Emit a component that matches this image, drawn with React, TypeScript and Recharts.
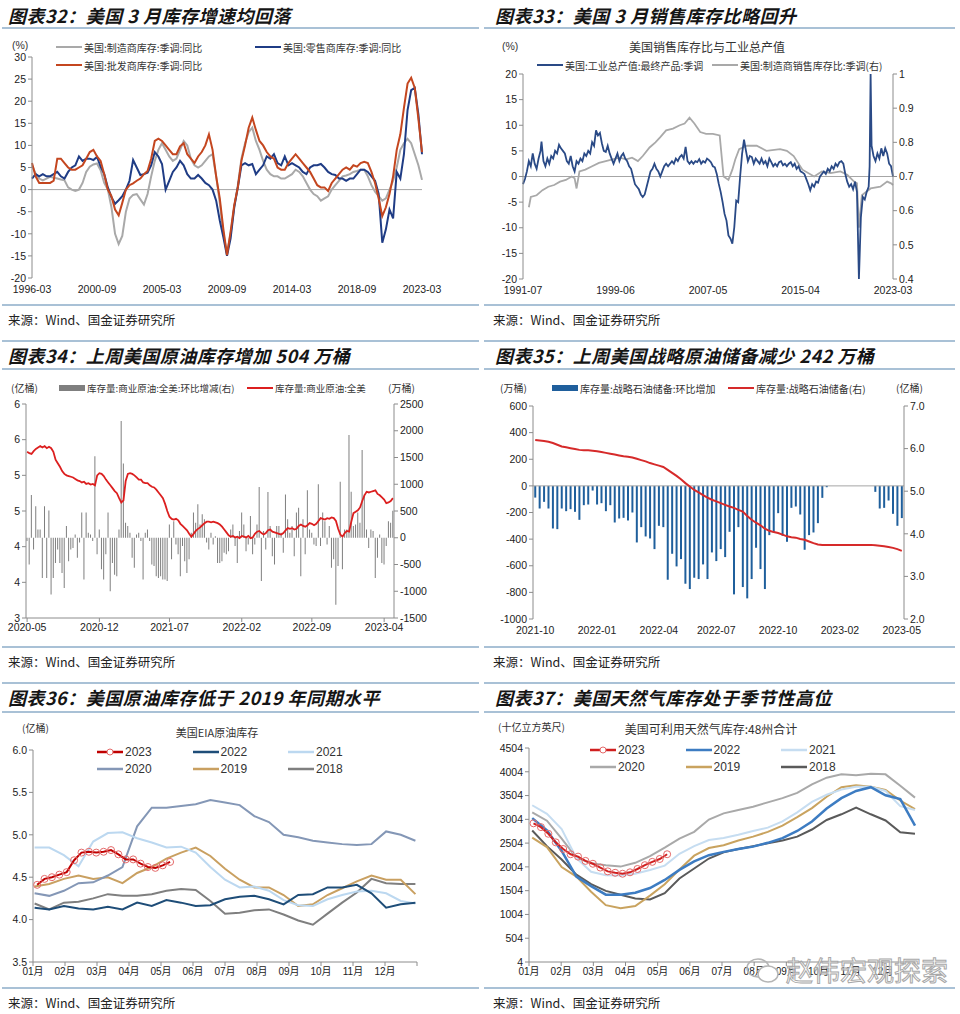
import React from "react";
import { LineChart, Line, XAxis, YAxis, ReferenceLine, ComposedChart, Bar } from "recharts";

const NUM_FONT = "'Liberation Sans', Arial, 'Noto Sans CJK SC', sans-serif";
const CJK_FONT = "'Noto Sans CJK SC', 'Liberation Sans', sans-serif";
const AXIS = "#8c8c8c";
const RULE = "#a9c1d6";
const tick = { fontSize: 10.5, fill: "#222", fontFamily: NUM_FONT };

// ---------- 图表32：美国库存同比（季度取样，1996-03 起） ----------
const P1_START = "1996-03";
const P1_TICKS = ["1996-03", "2000-09", "2005-03", "2009-09", "2014-03", "2018-09", "2023-03"];
const P1_MFG = [
  5.5, 3.6, 2.5, 2.1, 2.5, 2.9, 2.7, 2.5, 2.3, 2.1, 0.5, 0, -0.3, 0, 1.5, 4,
  5.2, 5.7, 5.9, 4.4, 1.5, 0, -4, -10, -12.3, -10.5, -5, -2, -1.2, -1, -2.2, -3.4,
  -1, 3, 6.5, 9, 10.5, 9, 7.5, 6.5, 7, 9, 11, 10, 7, 5.5, 5, 5.5,
  6.5, 7.5, 8, 3, -3, -10, -14.5, -10, -4, 1, 7, 10.5, 13, 14, 11, 9,
  6.5, 4.5, 3.5, 3, 3, 2.5, 2.5, 3, 3.5, 4.5, 4, 3, 1.5, 0, -1, -1.5,
  -2.5, -2, -1.5, 0, 1, 2, 3, 3.2, 3.5, 4, 4.2, 4.5, 4.5, 3, 1, -0.5,
  -1.5, -2.5, -2, 0, 2, 5, 9, 10.5, 11.5, 10.5, 8, 5.5, 2.2,
];
const P1_RETAIL = [
  2.5, 3.5, 3, 3.5, 3, 3, 3.5, 4, 3, 2.5, 4, 5, 5.5, 7.5, 6.5, 7,
  7, 6.7, 7.4, 5.2, 3.5, 0.5, -1.7, -3.2, -2.4, -1.5, 0, 2, 6.7, 5, 3.3, 3.5,
  3.8, 5.5, 8.5, 7.5, 5.8, 0, 2, 4, 5, 6.5, 5.5, 3.5, 2.5, 2.5, 3.3, 2.5,
  1.5, 1, 0, -2.5, -7, -10.8, -15, -11, -4, 0.5, 5.5, 6, 5.5, 5.8, 3.5, 4.5,
  5.5, 7.5, 7, 8, 6, 5.5, 7.5, 5.5, 6, 5.5, 5, 4, 3.5, 5, 5.5, 5.5,
  5.8, 5, 4, 3.5, 3.3, 2.5, 2.5, 2, 2.5, 2.5, 3.5, 4.5, 4.5, 4, 3, 2,
  -1, -12, -9, -4.5, -6.5, 4, 2.5, 8, 18, 22.5, 23, 17, 8,
];
const P1_WHOLE = [
  6, 3, 1.5, 1.5, 1.5, 1.5, 2, 7, 7, 6, 5, 4.5, 4.5, 5, 5.5, 7,
  8.5, 9, 7.5, 6.5, 3.5, 0, -1.5, -4.5, -5.8, -3, 0, 1, 1.4, 2, 2.5, 3.5,
  4.2, 7, 11, 11.5, 11, 10, 9, 8, 8, 9.8, 10.5, 8, 7, 6, 7.5, 8.5,
  10, 12.5, 9, 3, -2, -9, -14.8, -9.5, -3.5, 0.5, 6.5, 10, 14, 16.3, 13.5, 11,
  10, 8.5, 7.5, 7, 5, 4.5, 4.5, 6, 7, 8, 7, 6, 5, 4, 2.5, 1,
  0.5, 0.5, -0.3, 1.5, 2.5, 3.5, 4.5, 5, 4.5, 5.5, 5.2, 6, 6.3, 6, 4, 1.5,
  -2, -6, -4, -1, 3, 9, 12.5, 18.5, 24, 25.3, 23, 16, 8.5,
];

// ---------- 图表33：工业总产值与销售库存比 ----------
const P2_START = "1991-07";
const P2_TICKS = ["1991-07", "1999-06", "2007-05", "2015-04", "2023-03"];
const P2_IP: [string, number][] = [
  ["1991-07", -1.5], ["1991-09", -0.5], ["1991-11", 1], ["1992-01", 3], ["1992-03", 2], ["1992-05", 4.5],
  ["1992-07", 2.5], ["1992-09", 1.5], ["1992-11", 3.5], ["1993-01", 5], ["1993-02", 6.8], ["1993-04", 3],
  ["1993-06", 2], ["1993-08", 3.5], ["1993-10", 2.5], ["1993-12", 4], ["1994-02", 3.5], ["1994-04", 5],
  ["1994-06", 4.5], ["1994-08", 6.2], ["1994-10", 5.5], ["1994-12", 5], ["1995-02", 4.5], ["1995-04", 3],
  ["1995-06", 2.5], ["1995-08", 4], ["1995-10", 2], ["1995-12", 1], ["1996-02", 3], ["1996-04", 2.5],
  ["1996-06", 3.5], ["1996-08", 3], ["1996-10", 4.5], ["1996-12", 4], ["1997-02", 5], ["1997-04", 4.5],
  ["1997-06", 6.7], ["1997-08", 6], ["1997-10", 9], ["1997-12", 8], ["1998-02", 8.5], ["1998-04", 6.5],
  ["1998-06", 5], ["1998-08", 4.8], ["1998-10", 6], ["1998-12", 4.5], ["1999-02", 3.5], ["1999-04", 2.5],
  ["1999-06", 3.5], ["1999-08", 4.5], ["1999-10", 3], ["1999-12", 4], ["2000-02", 4.5], ["2000-04", 3.5],
  ["2000-06", 3], ["2000-08", 2], ["2000-10", 1.5], ["2000-12", 0], ["2001-02", -1.5], ["2001-04", -2],
  ["2001-06", -2.5], ["2001-08", -3.5], ["2001-10", -4], ["2001-12", -3.5], ["2002-02", -2], ["2002-04", -0.5],
  ["2002-06", 1], ["2002-08", 1.5], ["2002-10", 2.5], ["2002-12", 1.5], ["2003-02", 1], ["2003-04", 0],
  ["2003-06", 1], ["2003-08", 2], ["2003-10", 2.5], ["2003-12", 2], ["2004-02", 2.5], ["2004-04", 3],
  ["2004-06", 2.5], ["2004-08", 3.5], ["2004-10", 3], ["2004-12", 3.8], ["2005-02", 4.2], ["2005-04", 3.5],
  ["2005-06", 5.8], ["2005-08", 3], ["2005-10", 2.5], ["2005-12", 3], ["2006-02", 2.5], ["2006-04", 3],
  ["2006-06", 2.8], ["2006-08", 3.4], ["2006-10", 2.5], ["2006-12", 3], ["2007-02", 2.7], ["2007-04", 3.5],
  ["2007-06", 3.2], ["2007-08", 2.8], ["2007-10", 2], ["2007-12", 1.8], ["2008-02", 0.5], ["2008-04", -1.4],
  ["2008-06", -3], ["2008-08", -5], ["2008-10", -7.3], ["2008-12", -8.6], ["2009-02", -11.5], ["2009-04", -12.1],
  ["2009-06", -13.1], ["2009-08", -9.9], ["2009-10", -4.7], ["2009-12", -5], ["2010-02", 0], ["2010-04", 4.4],
  ["2010-06", 7.2], ["2010-08", 5], ["2010-10", 3], ["2010-12", 4], ["2011-02", 3.8], ["2011-04", 2.5],
  ["2011-06", 3.5], ["2011-08", 3], ["2011-10", 2.5], ["2011-12", 3.5], ["2012-02", 2.5], ["2012-04", 3],
  ["2012-06", 2], ["2012-08", 3.5], ["2012-10", 2.8], ["2012-12", 2], ["2013-02", 2.5], ["2013-04", 2],
  ["2013-06", 2.8], ["2013-08", 3], ["2013-10", 2.2], ["2013-12", 2.5], ["2014-02", 2], ["2014-04", 2.5],
  ["2014-06", 2.8], ["2014-08", 2], ["2014-10", 2.5], ["2014-12", 1.5], ["2015-02", 2], ["2015-04", 1],
  ["2015-06", 0.8], ["2015-08", 0.5], ["2015-10", -0.5], ["2015-12", -1.5], ["2016-02", -2.7], ["2016-04", -1.5],
  ["2016-06", -2], ["2016-08", -1], ["2016-10", -1.2], ["2016-12", 0], ["2017-02", 0.5], ["2017-04", 1],
  ["2017-06", 0.5], ["2017-08", 1.5], ["2017-10", 1], ["2017-12", 2], ["2018-02", 1.5], ["2018-04", 2.5],
  ["2018-06", 2], ["2018-08", 2.8], ["2018-10", 3], ["2018-12", 2.5], ["2019-02", 0.5], ["2019-04", -1],
  ["2019-06", -2], ["2019-08", -1.5], ["2019-10", -2.5], ["2019-12", -1], ["2020-02", -3], ["2020-04", -20],
  ["2020-05", -14], ["2020-06", -8], ["2020-08", -4], ["2020-10", -4.5], ["2020-12", -3], ["2021-02", -2],
  ["2021-03", 2], ["2021-04", 20], ["2021-05", 6], ["2021-07", 4], ["2021-09", 3], ["2021-11", 4.5],
  ["2022-01", 3.5], ["2022-03", 5.5], ["2022-05", 4], ["2022-07", 5.5], ["2022-09", 4.5], ["2022-11", 2.5],
  ["2023-01", 2], ["2023-03", 0],
];
const P2_ISR: [string, number][] = [
  ["1992-01", 0.61], ["1992-03", 0.64], ["1992-09", 0.645], ["1993-03", 0.66], ["1993-09", 0.67], ["1994-03", 0.675],
  ["1994-09", 0.685], ["1995-03", 0.69], ["1995-09", 0.7], ["1995-12", 0.695], ["1996-02", 0.665], ["1996-05", 0.715],
  ["1996-11", 0.72], ["1997-06", 0.73], ["1998-01", 0.74], ["1998-08", 0.745], ["1999-03", 0.75], ["1999-10", 0.755],
  ["2000-05", 0.75], ["2000-11", 0.755], ["2001-05", 0.745], ["2001-10", 0.76], ["2002-05", 0.785], ["2002-11", 0.8],
  ["2003-04", 0.815], ["2003-10", 0.835], ["2004-05", 0.84], ["2004-12", 0.85], ["2005-05", 0.855], ["2005-10", 0.872],
  ["2006-03", 0.855], ["2006-09", 0.83], ["2007-03", 0.825], ["2007-10", 0.825], ["2008-05", 0.82], ["2008-09", 0.7],
  ["2009-02", 0.69], ["2009-06", 0.72], ["2009-09", 0.75], ["2010-01", 0.78], ["2010-09", 0.79], ["2011-07", 0.79],
  ["2012-05", 0.775], ["2013-07", 0.78], ["2014-02", 0.775], ["2014-09", 0.76], ["2015-06", 0.72], ["2016-06", 0.7],
  ["2017-02", 0.715], ["2017-11", 0.71], ["2018-09", 0.715], ["2019-04", 0.705], ["2019-11", 0.685], ["2020-02", 0.68],
  ["2020-04", 0.55], ["2020-07", 0.645], ["2021-04", 0.665], ["2022-02", 0.67], ["2022-09", 0.685], ["2023-01", 0.68],
  ["2023-03", 0.675],
];

// ---------- 图表34：商业原油库存（周） ----------
const P3_TICK_IDX = [0, 33, 65, 98, 130, 163];
const P3_TICK_LABELS = ["2020-05", "2020-12", "2021-07", "2022-02", "2022-09", "2023-04"];
const P3_CHANGE = [
  -60, -500, 800, -220, 590, 155, 155, -750, 590, -750,
  510, -1060, -750, -470, -220, -470, -660, -940, 220, -440,
  -220, -190, 60, -375, -90, 470, -780, 470, 95, 60,
  -60, 1525, -310, 155, -590, -780, -310, 470, -1000, -470,
  -690, -720, 155, 2180, 1390, 280, 220, 95, -375, -560,
  60, 95, -60, -780, 95, 155, -60, -500, -530, -720,
  -750, -720, -780, -780, -810, 250, -400, 310, -125, -310,
  -720, -155, -440, -660, -400, 95, 470, 280, 625, 250,
  440, 345, -90, -220, 95, -125, 30, -470, -470, -440,
  -280, -310, -250, 155, 250, -155, -470, 125, 470, 250,
  -250, -125, 405, -310, -125, 250, 950, -810, 125, -220,
  855, 220, -345, -500, 220, 220, 95, -280, 810, 345,
  95, 220, -345, 470, 560, -720, 345, -310, 890, 155,
  95, -125, -155, 1000, -155, 470, 310, -125, 220, -560,
  -400, -1250, -530, 1045, -590, 155, 155, 1920, 860, 220,
  250, 470, 280, 1640, 810, 155, -190, 155, 125, -750,
  -375, 60, -470, -500, -155, 310, 280, 504,
];
const P3_STOCK = [
  5.33, 5.31, 5.3, 5.34, 5.37, 5.39, 5.41, 5.39, 5.41, 5.38,
  5.4, 5.38, 5.33, 5.22, 5.17, 5.12, 5.06, 5.02, 5.0, 4.99,
  4.98, 4.97, 4.95, 4.93, 4.92, 4.9, 4.91, 4.88, 4.89, 4.87,
  4.88, 4.86, 5.0, 5.03, 5.02, 4.99, 4.94, 4.9, 4.86, 4.82,
  4.78, 4.75, 4.68, 4.62, 4.65, 4.92, 5.02, 5.03, 5.02, 5.0,
  4.97, 4.94, 4.94, 4.9, 4.89, 4.89, 4.86, 4.84, 4.83, 4.8,
  4.76, 4.72, 4.68, 4.6, 4.5, 4.42, 4.39, 4.38, 4.39, 4.37,
  4.32, 4.29, 4.26, 4.23, 4.18, 4.14, 4.18, 4.22, 4.25, 4.27,
  4.3, 4.33, 4.35, 4.35, 4.34, 4.35, 4.34, 4.33, 4.31, 4.28,
  4.24, 4.2, 4.16, 4.14, 4.15, 4.13, 4.14, 4.12, 4.15, 4.14,
  4.13, 4.15, 4.12, 4.13, 4.18, 4.21, 4.22, 4.19, 4.17, 4.19,
  4.23, 4.24, 4.21, 4.2, 4.19, 4.18, 4.17, 4.19, 4.23, 4.26,
  4.25, 4.26, 4.24, 4.25, 4.29, 4.31, 4.29, 4.28, 4.3, 4.33,
  4.32, 4.3, 4.32, 4.36, 4.4, 4.39, 4.38, 4.4, 4.39, 4.41,
  4.4, 4.36, 4.25, 4.17, 4.14, 4.19, 4.22, 4.21, 4.35, 4.47,
  4.49, 4.51, 4.55, 4.64, 4.72, 4.77, 4.76, 4.77, 4.78, 4.79,
  4.74, 4.72, 4.69, 4.66, 4.61, 4.62, 4.64, 4.68,
];

// ---------- 图表35：战略石油储备（周） ----------
const P4_TICK_IDX = [0, 14, 28, 41, 55, 69, 83];
const P4_TICK_LABELS = ["2021-10", "2022-01", "2022-04", "2022-07", "2022-10", "2023-02", "2023-05"];
const P4_CHANGE = [
  -88, -170, -120, -170, -320, -325, -170, -190, -175, -195,
  -255, -145, -140, -35, -140, -130, -190, -145, -275, -245,
  -240, -260, -200, -425, -310, -380, -395, -475, -300, -310,
  -705, -510, -605, -550, -735, -775, -690, -700, -590, -700,
  -500, -565, -475, -535, -345, -815, -310, -760, -845, -700,
  -465, -625, -775, -370, -350, -205, -375, -420, -165, -155,
  -215, -480, -370, -350, -280, -90, -10, 0, 0, 0,
  0, 0, 0, 0, 0, 0, 0, -45, -170, -165,
  -110, -210, -300, -242,
];
const P4_STOCK = [
  6.2, 6.19, 6.18, 6.16, 6.13, 6.09, 6.05, 6.03, 6.01, 5.99,
  5.97, 5.96, 5.96, 5.95, 5.94, 5.92, 5.9, 5.88, 5.86, 5.84,
  5.82, 5.81, 5.79, 5.76, 5.73, 5.7, 5.66, 5.63, 5.6, 5.57,
  5.5, 5.43, 5.36, 5.28, 5.19, 5.11, 5.03, 4.97, 4.91, 4.85,
  4.8, 4.76, 4.72, 4.68, 4.64, 4.61, 4.56, 4.52, 4.42, 4.33,
  4.26, 4.2, 4.12, 4.07, 4.04, 4.02, 3.98, 3.94, 3.92, 3.91,
  3.88, 3.86, 3.82, 3.78, 3.75, 3.74, 3.74, 3.74, 3.74, 3.74,
  3.74, 3.74, 3.74, 3.74, 3.74, 3.74, 3.74, 3.73, 3.72, 3.71,
  3.69, 3.67, 3.64, 3.6,
];

// ---------- 图表36：EIA原油库存（双周取样，2023为周） ----------
const CRUDE_2023 = [4.41, 4.48, 4.5, 4.53, 4.56, 4.7, 4.79, 4.8, 4.79, 4.8, 4.82, 4.77, 4.71, 4.71, 4.66, 4.62, 4.61, 4.64, 4.68];
const CRUDE_2022 = [4.14, 4.12, 4.16, 4.13, 4.12, 4.15, 4.12, 4.2, 4.16, 4.23, 4.2, 4.16, 4.17, 4.24, 4.27, 4.28, 4.24, 4.18, 4.29, 4.3, 4.38, 4.38, 4.41, 4.31, 4.14, 4.18, 4.2];
const CRUDE_2021 = [4.85, 4.85, 4.76, 4.63, 4.92, 5.02, 5.03, 4.96, 4.91, 4.85, 4.86, 4.79, 4.62, 4.47, 4.38, 4.39, 4.34, 4.23, 4.17, 4.16, 4.24, 4.29, 4.33, 4.34, 4.31, 4.22, 4.19];
const CRUDE_2020 = [4.31, 4.28, 4.34, 4.43, 4.44, 4.52, 4.62, 5.1, 5.32, 5.32, 5.34, 5.36, 5.41, 5.38, 5.35, 5.22, 5.15, 5.0, 4.97, 4.93, 4.91, 4.89, 4.88, 4.89, 5.04, 5.0, 4.93];
const CRUDE_2019 = [4.39, 4.42, 4.48, 4.52, 4.48, 4.5, 4.43, 4.55, 4.62, 4.72, 4.79, 4.85, 4.75, 4.6, 4.47, 4.38, 4.38, 4.29, 4.16, 4.18, 4.29, 4.37, 4.45, 4.52, 4.47, 4.47, 4.3];
const CRUDE_2018 = [4.19, 4.12, 4.2, 4.21, 4.25, 4.3, 4.28, 4.28, 4.3, 4.34, 4.36, 4.35, 4.22, 4.07, 4.08, 4.11, 4.12, 4.06, 3.99, 3.94, 4.07, 4.2, 4.32, 4.48, 4.43, 4.42, 4.42];

// ---------- 图表37：天然气库存 ----------
const GAS_2023 = [2920, 2840, 2700, 2520, 2380, 2270, 2220, 2130, 2070, 1990, 1910, 1880, 1860, 1890, 1960, 2040, 2110, 2170, 2270];
const GAS_2022 = [3030, 2770, 2340, 1800, 1600, 1420, 1420, 1460, 1560, 1730, 1940, 2120, 2250, 2320, 2380, 2430, 2510, 2610, 2760, 2960, 3230, 3450, 3600, 3680, 3510, 3430, 2870];
const GAS_2021 = [3300, 3120, 2800, 2190, 1900, 1830, 1825, 1860, 1940, 2030, 2280, 2440, 2570, 2610, 2680, 2760, 2830, 2960, 3150, 3370, 3520, 3630, 3690, 3690, 3600, 3280, 3200];
const GAS_2020 = [3150, 2975, 2600, 2200, 2080, 2040, 2010, 2090, 2230, 2410, 2600, 2740, 3000, 3130, 3200, 3270, 3360, 3450, 3560, 3740, 3880, 3950, 3930, 3965, 3950, 3710, 3460];
const GAS_2019 = [2620, 2420, 2000, 1800, 1480, 1200, 1135, 1180, 1400, 1640, 1950, 2240, 2400, 2460, 2560, 2640, 2740, 2870, 3050, 3240, 3480, 3680, 3720, 3690, 3620, 3400, 3220];
const GAS_2018 = [2770, 2440, 2160, 1840, 1640, 1500, 1420, 1340, 1320, 1450, 1760, 1970, 2180, 2310, 2380, 2440, 2500, 2560, 2640, 2790, 2990, 3110, 3250, 3110, 2980, 2730, 2700];

const MONTH_LABELS = ["01月", "02月", "03月", "04月", "05月", "06月", "07月", "08月", "09月", "10月", "11月", "12月", ""];

function monthsBetween(a: string, b: string) {
  const [ya, ma] = a.split("-").map(Number);
  const [yb, mb] = b.split("-").map(Number);
  return (yb - ya) * 12 + (mb - ma);
}
function addMonths(start: string, n: number) {
  const [y, m] = start.split("-").map(Number);
  const t = y * 12 + (m - 1) + Math.round(n);
  return `${Math.floor(t / 12)}-${String((t % 12) + 1).padStart(2, "0")}`;
}
// 周/双周序列在月份轴上的位置
const seasonal = (vals: number[], start: number, step: number) => vals.map((v, i) => ({ m: start + i * step, v }));

const p1Data = P1_MFG.map((v, i) => ({ m: i * 3, mfg: v, retail: P1_RETAIL[i], whole: P1_WHOLE[i] }));
const p2Ip = P2_IP.map(([d, v]) => ({ m: monthsBetween(P2_START, d), v }));
const p2Isr = P2_ISR.map(([d, v]) => ({ m: monthsBetween(P2_START, d), v }));
const p3Data = P3_CHANGE.map((c, i) => ({ i, c, s: P3_STOCK[i] }));
const p4Data = P4_CHANGE.map((c, i) => ({ i, c, s: P4_STOCK[i] }));

function Box({ x, y, w, h, children }: any) {
  return <div style={{ position: "absolute", left: x, top: y, width: w, height: h }}>{children}</div>;
}
function Title({ x, y, text }: any) {
  return (
    <div style={{ position: "absolute", left: x, top: y - 12, lineHeight: "24px", fontFamily: CJK_FONT, fontSize: 18, fontWeight: 700, fontStyle: "italic", color: "#151515", whiteSpace: "nowrap", letterSpacing: 0.5 }}>
      {text}
    </div>
  );
}
function Rule({ x, y, w }: any) {
  return <div style={{ position: "absolute", left: x, top: y, width: w, height: 2, background: RULE }} />;
}
function Txt({ x, y, children, size = 10, center = false, font = CJK_FONT, color = "#333" }: any) {
  return (
    <div style={{ position: "absolute", left: x, top: y - 8, lineHeight: "16px", fontSize: size, fontFamily: font, color, whiteSpace: "nowrap", transform: center ? "translateX(-50%)" : undefined }}>
      {children}
    </div>
  );
}
function Leg({ x, y, color, label, kind = "line", sw = 2, marker, size = 10, font = CJK_FONT }: any) {
  return (
    <div style={{ position: "absolute", left: x, top: y - 8, height: 16, display: "flex", alignItems: "center", whiteSpace: "nowrap" }}>
      <svg width={26} height={10} style={{ flex: "none" }}>
        {kind === "box" ? (
          <rect x={0} y={2} width={26} height={6} fill={color} />
        ) : (
          <line x1={0} x2={26} y1={5} y2={5} stroke={color} strokeWidth={sw} />
        )}
        {marker && <circle cx={13} cy={5} r={3} fill="#fff" stroke={marker} strokeWidth={1} />}
      </svg>
      <span style={{ marginLeft: 2, fontSize: size, fontFamily: font, color: "#333" }}>{label}</span>
    </div>
  );
}
function Source({ x, y }: any) {
  return <Txt x={x} y={y} size={12.5} color="#222">来源：Wind、国金证券研究所</Txt>;
}

const yAxisLeft = { axisLine: { stroke: AXIS }, tickLine: { stroke: AXIS }, tickSize: 4, tick, interval: 0 as const };

function Chart32() {
  const ticks = P1_TICKS.map((d) => monthsBetween(P1_START, d));
  return (
    <LineChart width={480} height={258} data={p1Data} margin={{ top: 7, right: 58, bottom: 2, left: 0 }}>
      <XAxis dataKey="m" type="number" domain={[0, 324]} ticks={ticks} tickFormatter={(v) => addMonths(P1_START, v)} axisLine={false} tickLine={false} tick={tick} height={28} interval={0} />
      <YAxis domain={[-20, 30]} ticks={[-20, -15, -10, -5, 0, 5, 10, 15, 20, 25, 30]} width={32} {...yAxisLeft} />
      <ReferenceLine y={0} stroke="#a6a6a6" strokeWidth={1} />
      <Line dataKey="mfg" stroke="#a9a9a9" strokeWidth={2} dot={false} isAnimationActive={false} />
      <Line dataKey="retail" stroke="#1f3c85" strokeWidth={2} dot={false} isAnimationActive={false} />
      <Line dataKey="whole" stroke="#c4461f" strokeWidth={2} dot={false} isAnimationActive={false} />
    </LineChart>
  );
}

function Chart33() {
  const ticks = P2_TICKS.map((d) => monthsBetween(P2_START, d));
  return (
    <LineChart width={480} height={249} margin={{ top: 14, right: 27, bottom: 2, left: 0 }}>
      <XAxis dataKey="m" type="number" domain={[0, 380]} ticks={ticks} tickFormatter={(v) => addMonths(P2_START, v)} axisLine={false} tickLine={false} tick={tick} height={28} interval={0} />
      <YAxis yAxisId="l" domain={[-20, 20]} ticks={[-20, -15, -10, -5, 0, 5, 10, 15, 20]} width={43} {...yAxisLeft} />
      <YAxis yAxisId="r" orientation="right" domain={[0.4, 1]} ticks={[0.4, 0.5, 0.6, 0.7, 0.8, 0.9, 1]} tickFormatter={(v) => (v === 1 ? "1" : v.toFixed(1))} width={40} {...yAxisLeft} />
      <ReferenceLine yAxisId="l" y={0} stroke="#a6a6a6" strokeWidth={1} />
      <Line yAxisId="r" data={p2Isr} dataKey="v" stroke="#a9a9a9" strokeWidth={1.8} dot={false} isAnimationActive={false} />
      <Line yAxisId="l" data={p2Ip} dataKey="v" stroke="#2a4a86" strokeWidth={1.8} dot={false} isAnimationActive={false} />
    </LineChart>
  );
}

function Chart34() {
  return (
    <ComposedChart width={480} height={254} data={p3Data} margin={{ top: 10, right: 36, bottom: 2, left: 0 }} barCategoryGap="22%">
      <XAxis dataKey="i" type="category" ticks={P3_TICK_IDX} tickFormatter={(v) => P3_TICK_LABELS[P3_TICK_IDX.indexOf(Number(v))] ?? ""} axisLine={{ stroke: AXIS }} tickLine={{ stroke: AXIS }} tickSize={4} tick={tick} height={28} interval={0} />
      <YAxis yAxisId="l" domain={[3, 6]} ticks={[3, 3.5, 4, 4.5, 5, 5.5, 6]} tickFormatter={(v) => Number(v).toFixed(0)} width={26} {...yAxisLeft} />
      <YAxis yAxisId="r" orientation="right" domain={[-1500, 2500]} ticks={[-1500, -1000, -500, 0, 500, 1000, 1500, 2000, 2500]} width={50} {...yAxisLeft} />
      <Bar yAxisId="r" dataKey="c" fill="#7f7f7f" isAnimationActive={false} />
      <Line yAxisId="l" dataKey="s" stroke="#dc1f1f" strokeWidth={1.8} dot={false} isAnimationActive={false} />
    </ComposedChart>
  );
}

function Chart35() {
  return (
    <ComposedChart width={480} height={253} data={p4Data} margin={{ top: 10, right: 16, bottom: 2, left: 0 }} barCategoryGap="28%">
      <XAxis dataKey="i" type="category" ticks={P4_TICK_IDX} tickFormatter={(v) => P4_TICK_LABELS[P4_TICK_IDX.indexOf(Number(v))] ?? ""} axisLine={false} tickLine={false} tick={tick} height={28} interval={0} />
      <YAxis yAxisId="l" domain={[-1000, 600]} ticks={[-1000, -800, -600, -400, -200, 0, 200, 400, 600]} width={53} {...yAxisLeft} />
      <YAxis yAxisId="r" orientation="right" domain={[2, 7]} ticks={[2, 3, 4, 5, 6, 7]} tickFormatter={(v) => Number(v).toFixed(1)} width={40} {...yAxisLeft} />
      <ReferenceLine yAxisId="l" y={0} stroke="#a6a6a6" strokeWidth={1} />
      <Bar yAxisId="l" dataKey="c" fill="#1f5f9c" isAnimationActive={false} />
      <Line yAxisId="r" dataKey="s" stroke="#d62a2a" strokeWidth={2} dot={false} isAnimationActive={false} />
    </ComposedChart>
  );
}

function SeasonalChart({ domain, yTicks, yWidth, right, top, series }: any) {
  return (
    <LineChart width={480} height={250} margin={{ top, right, bottom: 2, left: 0 }}>
      <XAxis dataKey="m" type="number" domain={[0, 12]} ticks={[0, 1, 2, 3, 4, 5, 6, 7, 8, 9, 10, 11, 12]} tickFormatter={(v) => MONTH_LABELS[v]} axisLine={{ stroke: AXIS }} tickLine={{ stroke: AXIS }} tickSize={4} tick={{ ...tick, fontSize: 10 }} height={26} interval={0} />
      <YAxis dataKey="v" domain={domain} ticks={yTicks} tickFormatter={(v) => (domain[1] < 10 ? Number(v).toFixed(1) : String(v))} width={yWidth} {...yAxisLeft} />
      {series.map((s: any) => (
        <Line key={s.name} data={s.data} dataKey="v" stroke={s.color} strokeWidth={s.sw ?? 2} isAnimationActive={false}
          dot={s.marker ? { r: 3.5, stroke: s.marker, strokeWidth: 1, fill: "none" } : false} />
      ))}
    </LineChart>
  );
}

export default function App() {
  const crudeSeries = [
    { name: "2018", color: "#7f7f7f", data: seasonal(CRUDE_2018, 0.05, 0.4577) },
    { name: "2019", color: "#c9a061", data: seasonal(CRUDE_2019, 0.05, 0.4577) },
    { name: "2020", color: "#8497b6", data: seasonal(CRUDE_2020, 0.05, 0.4577) },
    { name: "2021", color: "#bcd8f0", data: seasonal(CRUDE_2021, 0.05, 0.4577) },
    { name: "2022", color: "#1e4d78", data: seasonal(CRUDE_2022, 0.05, 0.4577) },
    { name: "2023", color: "#c00000", marker: "#e46a6a", data: seasonal(CRUDE_2023, 0.13, 0.2308) },
  ];
  const gasSeries = [
    { name: "2018", color: "#5a5a5a", data: seasonal(GAS_2018, 0.1, 0.4577) },
    { name: "2019", color: "#c9a35f", data: seasonal(GAS_2019, 0.1, 0.4577) },
    { name: "2020", color: "#a9a9a9", data: seasonal(GAS_2020, 0.1, 0.4577) },
    { name: "2021", color: "#c6ddf1", data: seasonal(GAS_2021, 0.1, 0.4577) },
    { name: "2022", color: "#3d7cc2", sw: 2.5, data: seasonal(GAS_2022, 0.1, 0.4577) },
    { name: "2023", color: "#d01f1f", marker: "#e46a6a", data: seasonal(GAS_2023, 0.14, 0.2308) },
  ];
  const yearLeg = (x0: number, y0: number, colors: Record<string, string>, marker: string) =>
    ["2023", "2022", "2021", "2020", "2019", "2018"].map((yr, k) => (
      <Leg key={yr} x={x0 + (k % 3) * 95.5} y={y0 + Math.floor(k / 3) * 17} color={colors[yr]} label={yr} size={12} font={NUM_FONT}
        sw={2.5} marker={yr === "2023" ? marker : undefined} />
    ));

  return (
    <div style={{ position: "absolute", left: 0, top: 0, width: 960, height: 1014, background: "#fff", overflow: "hidden" }}>
      {/* rules */}
      <Rule x={2} y={27} w={477} /><Rule x={484} y={27} w={471} />
      <Rule x={2} y={304} w={477} /><Rule x={484} y={304} w={471} />
      <Rule x={2} y={340} w={477} /><Rule x={484} y={340} w={471} />
      <Rule x={2} y={368} w={477} /><Rule x={484} y={368} w={471} />
      <Rule x={2} y={646} w={477} /><Rule x={484} y={646} w={471} />
      <Rule x={2} y={682} w={477} /><Rule x={484} y={682} w={471} />
      <Rule x={2} y={711} w={477} /><Rule x={484} y={711} w={471} />
      <Rule x={2} y={987} w={477} /><Rule x={484} y={987} w={471} />

      {/* 图表32 */}
      <Title x={8} y={15} text="图表32：美国 3 月库存增速均回落" />
      <Txt x={12} y={45} font={NUM_FONT} size={10.5}>(%)</Txt>
      <Leg x={56} y={47} color="#a9a9a9" label="美国:制造商库存:季调:同比" />
      <Leg x={255} y={47} color="#1f3c85" label="美国:零售商库存:季调:同比" />
      <Leg x={56} y={65} color="#c4461f" label="美国:批发商库存:季调:同比" />
      <Box x={0} y={50} w={480} h={258}><Chart32 /></Box>
      <Source x={8} y={320} />

      {/* 图表33 */}
      <Title x={495} y={15} text="图表33：美国 3 月销售库存比略回升" />
      <Txt x={502} y={46} font={NUM_FONT} size={10.5}>(%)</Txt>
      <Txt x={707} y={47} size={12} center>美国销售库存比与工业总产值</Txt>
      <Leg x={537} y={65} color="#2a4a86" label="美国:工业总产值:最终产品:季调" />
      <Leg x={712} y={65} color="#a9a9a9" label="美国:制造商销售库存比:季调(右)" />
      <Box x={480} y={60} w={480} h={249}><Chart33 /></Box>
      <Source x={493} y={320} />

      {/* 图表34 */}
      <Title x={8} y={355} text="图表34：上周美国原油库存增加 504 万桶" />
      <Txt x={11} y={388}>(亿桶)</Txt>
      <Leg x={59} y={388} color="#7f7f7f" kind="box" size={9.5} label="库存量:商业原油:全美:环比增减(右)" />
      <Leg x={247} y={388} color="#dc1f1f" size={9.5} label="库存量:商业原油:全美" />
      <Txt x={388} y={388}>(万桶)</Txt>
      <Box x={0} y={394} w={480} h={254}><Chart34 /></Box>
      <Source x={8} y={662} />

      {/* 图表35 */}
      <Title x={495} y={355} text="图表35：上周美国战略原油储备减少 242 万桶" />
      <Txt x={500} y={388}>(万桶)</Txt>
      <Leg x={552} y={388} color="#1f5f9c" kind="box" label="库存量:战略石油储备:环比增加" />
      <Leg x={728} y={388} color="#d62a2a" label="库存量:战略石油储备(右)" />
      <Txt x={896} y={388}>(亿桶)</Txt>
      <Box x={480} y={396} w={480} h={253}><Chart35 /></Box>
      <Source x={493} y={662} />

      {/* 图表36 */}
      <Title x={8} y={697} text="图表36：美国原油库存低于 2019 年同期水平" />
      <Txt x={22} y={728}>(亿桶)</Txt>
      <Txt x={217} y={732} size={11} center>美国EIA原油库存</Txt>
      {yearLeg(97, 752, { "2023": "#c00000", "2022": "#1e4d78", "2021": "#bcd8f0", "2020": "#8497b6", "2019": "#c9a061", "2018": "#7f7f7f" }, "#e46a6a")}
      <Box x={0} y={740} w={480} h={250}>
        <SeasonalChart domain={[3.5, 6]} yTicks={[3.5, 4, 4.5, 5, 5.5, 6]} yWidth={33} right={63} top={10} series={crudeSeries} />
      </Box>
      <Source x={8} y={1003} />

      {/* 图表37 */}
      <Title x={495} y={697} text="图表37：美国天然气库存处于季节性高位" />
      <Txt x={498} y={727}>(十亿立方英尺)</Txt>
      <Txt x={711} y={729} size={12} center>美国可利用天然气库存:48州合计</Txt>
      {yearLeg(590, 750, { "2023": "#d01f1f", "2022": "#3d7cc2", "2021": "#c6ddf1", "2020": "#a9a9a9", "2019": "#c9a35f", "2018": "#5a5a5a" }, "#e46a6a")}
      <Box x={480} y={740} w={480} h={250}>
        <SeasonalChart domain={[4, 4504]} yTicks={[4, 504, 1004, 1504, 2004, 2504, 3004, 3504, 4004, 4504]} yWidth={49} right={45} top={8} series={gasSeries} />
      </Box>
      <Source x={493} y={1003} />

      {/* watermark */}
      <svg style={{ position: "absolute", left: 745, top: 956 }} width={36} height={30}>
        <ellipse cx={13} cy={12} rx={11} ry={9} fill="none" stroke="#b5b5b5" strokeWidth={1.5} />
        <ellipse cx={23} cy={18} rx={10} ry={8} fill="#fff" stroke="#b5b5b5" strokeWidth={1.5} />
      </svg>
      <div style={{ position: "absolute", left: 786, top: 953, fontSize: 27, lineHeight: "34px", fontFamily: CJK_FONT, color: "rgba(255,255,255,0.6)", WebkitTextStroke: "1px #a8a8a8", whiteSpace: "nowrap" }}>
        赵伟宏观探索
      </div>
    </div>
  );
}
